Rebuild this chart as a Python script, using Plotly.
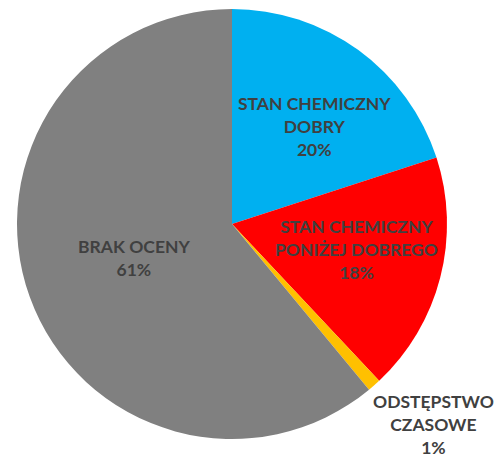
import plotly.graph_objects as go

labels = ["STAN CHEMICZNY<br>DOBRY", "STAN CHEMICZNY<br>PONIŻEJ DOBREGO", "ODSTĘPSTWO<br>CZASOWE", "BRAK OCENY"]
values = [20, 18, 1, 61]
colors = ["#00B0F0", "#FF0000", "#FFC000", "#808080"]
# label anchor positions (paper coords) for each data label
label_x = [314 / 498, 356 / 498, 433 / 498, 134 / 498]
label_y = [1 - 126 / 457, 1 - 250 / 457, 1 - 424 / 457, 1 - 258 / 457]

W, H = 498, 457
fig = go.Figure(go.Pie(
    labels=labels, values=values, sort=False, direction="clockwise", rotation=0,
    marker=dict(colors=colors, line=dict(width=0)),
    textinfo="none", hoverinfo="skip", showlegend=False,
    domain=dict(x=[17 / W, 447 / W], y=[1 - 439 / H, 1 - 9 / H]),
))

total = sum(values)
for lab, v, x, y in zip(labels, values, label_x, label_y):
    fig.add_annotation(
        x=x, y=y, xref="paper", yref="paper", showarrow=False,
        text=f"<b>{lab}<br>{round(100 * v / total)}%</b>",
        font=dict(family="Lato", size=17.5, color="#404040"),
        align="center", xanchor="center", yanchor="middle",
    )

fig.update_layout(width=W, height=H, margin=dict(l=0, r=0, t=0, b=0),
                  paper_bgcolor="white", plot_bgcolor="white")
fig.write_html("out.html")
